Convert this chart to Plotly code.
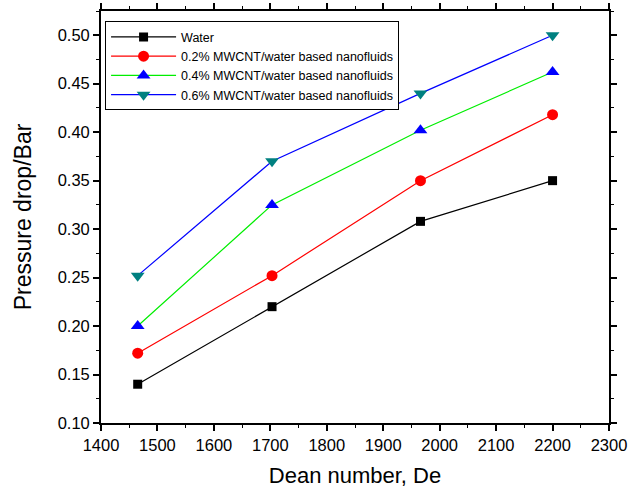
import plotly.graph_objects as go

dean = [1465, 1703, 1966, 2200]
water = [0.140, 0.220, 0.308, 0.350]
mwcnt_02 = [0.172, 0.252, 0.350, 0.418]
mwcnt_04 = [0.200, 0.325, 0.402, 0.462]
mwcnt_06 = [0.252, 0.370, 0.440, 0.500]

names = ["Water",
         "0.2% MWCNT/water based nanofluids",
         "0.4% MWCNT/water based nanofluids",
         "0.6% MWCNT/water based nanofluids"]

series = [
    (water, "#000000", "#000000", "square", 9),
    (mwcnt_02, "#ff0000", "#ff0000", "circle", 11),
    (mwcnt_04, "#00ee00", "#0000ff", "triangle-up", 12),
    (mwcnt_06, "#0000ff", "#008080", "triangle-down", 12),
]

fig = go.Figure()
for (vals, lc, mc, sym, sz), nm in zip(series, names):
    fig.add_trace(go.Scatter(
        x=dean, y=vals, mode="lines+markers", name=nm,
        line=dict(color=lc, width=1.2),
        marker=dict(color=mc, symbol=sym, size=sz, line=dict(width=0)),
    ))

font = "Liberation Sans, Arial, sans-serif"

fig.update_layout(
    width=642, height=488,
    margin=dict(l=101, r=33, t=11, b=65),
    plot_bgcolor="white", paper_bgcolor="white",
    font=dict(family=font, size=16.5, color="black"),
    xaxis=dict(range=[1400, 2300], dtick=100, ticks="outside", ticklen=6,
               showline=True, linecolor="black", linewidth=1.8, mirror="ticks",
               tickcolor="black", tickwidth=1.5, showgrid=False, zeroline=False,
               automargin=False,
               minor=dict(dtick=50, ticks="outside", ticklen=3, tickcolor="black", tickwidth=1.2),
               title=dict(text="Dean number, De", font=dict(size=22), standoff=15),
               tickfont=dict(size=16.5)),
    yaxis=dict(range=[0.10, 0.525], dtick=0.05, tick0=0.10, tickformat=".2f",
               ticks="outside", ticklen=6,
               showline=True, linecolor="black", linewidth=1.8, mirror="ticks",
               tickcolor="black", tickwidth=1.5, showgrid=False, zeroline=False,
               automargin=False,
               minor=dict(dtick=0.025, ticks="outside", ticklen=3, tickcolor="black", tickwidth=1.2),
               title=dict(text="Pressure drop/Bar", font=dict(size=23), standoff=20),
               tickfont=dict(size=16.5)),
    legend=dict(x=0.008, y=0.975, xanchor="left", yanchor="top",
                bordercolor="black", borderwidth=1, bgcolor="white",
                font=dict(size=12.5, family=font), tracegroupgap=0,
                itemwidth=65),
    showlegend=True,
)

fig.write_html("out.html")
